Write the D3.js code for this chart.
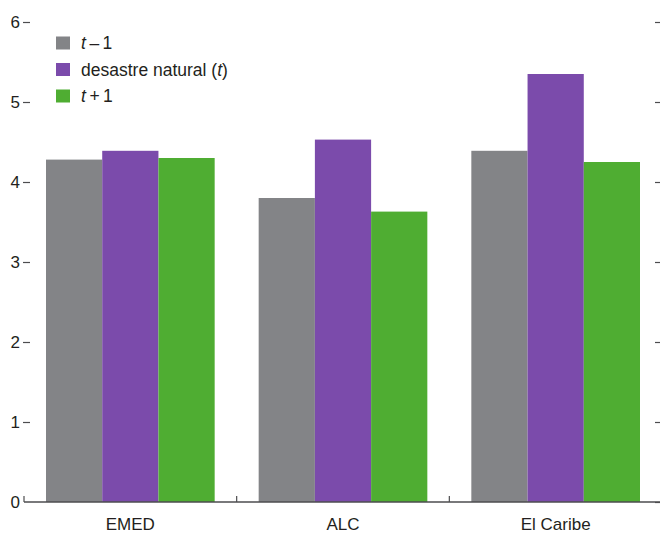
<!DOCTYPE html>
<html>
<head>
<meta charset="utf-8">
<script src="https://cdn.jsdelivr.net/npm/d3@7"></script>
<style>
  html, body { margin: 0; padding: 0; background: #fff; }
  svg text { font-family: "Liberation Sans", Arial, sans-serif; fill: #231f20; }
</style>
</head>
<body>
<svg id="chart" width="660" height="535"></svg>
<script>
const categories = ["EMED", "ALC", "El Caribe"];
const seriesKeys = ["tm1", "t", "tp1"];
const seriesColors = ["#838487", "#7b4bab", "#4fad32"];
const valuesTm1 = [4.28, 3.80, 4.39];
const valuesT = [4.39, 4.53, 5.35];
const valuesTp1 = [4.30, 3.63, 4.25];
const yTicks = [0, 1, 2, 3, 4, 5, 6];

const seriesValues = [valuesTm1, valuesT, valuesTp1];

const svg = d3.select("#chart");

const x0 = d3.scaleBand().domain(categories).range([24, 662]);
const x1 = d3.scaleBand().domain(seriesKeys).range([22, x0.bandwidth() - 22]);
const y = d3.scaleLinear().domain([0, 6]).range([502, 22]);
const color = d3.scaleOrdinal().domain(seriesKeys).range(seriesColors);

// bars
const groups = svg.append("g").selectAll("g")
  .data(categories)
  .join("g")
  .attr("transform", d => `translate(${x0(d)},0)`);

groups.selectAll("rect")
  .data((d, i) => seriesKeys.map((k, s) => ({ key: k, value: seriesValues[s][i] })))
  .join("rect")
  .attr("x", d => x1(d.key))
  .attr("width", x1.bandwidth())
  .attr("y", d => y(d.value))
  .attr("height", d => y(0) - y(d.value))
  .attr("fill", d => color(d.key));

// left axis (labels + short dashes)
const yAxisL = svg.append("g")
  .attr("transform", "translate(30,0)")
  .call(d3.axisLeft(y).tickValues(yTicks).tickSize(7).tickPadding(3).tickFormat(d3.format("d")));
yAxisL.select(".domain").remove();
yAxisL.selectAll(".tick line").attr("stroke", "#4d4d4f").attr("stroke-width", 1.2)
  .filter(d => d === 0).remove();
yAxisL.selectAll(".tick text").style("font-size", "17px").attr("fill", "#231f20");

// right axis ticks
const yAxisR = svg.append("g")
  .attr("transform", "translate(660,0)")
  .call(d3.axisLeft(y).tickValues(yTicks).tickSize(5).tickFormat(""));
yAxisR.select(".domain").remove();
yAxisR.selectAll(".tick line").attr("stroke", "#4d4d4f").attr("stroke-width", 1.2);

// x axis baseline
const boundaries = categories.map(c => x0(c));
svg.append("line")
  .attr("x1", x0.range()[0]).attr("x2", 660)
  .attr("y1", y(0)).attr("y2", y(0))
  .attr("stroke", "#4d4d4f").attr("stroke-width", 1.5);
svg.append("g").selectAll("line")
  .data(boundaries)
  .join("line")
  .attr("x1", d => d).attr("x2", d => d)
  .attr("y1", y(0)).attr("y2", y(0) - 6)
  .attr("stroke", "#4d4d4f").attr("stroke-width", 1.2);

// category labels
svg.append("g").selectAll("text")
  .data(categories)
  .join("text")
  .attr("x", d => x0(d) + x0.bandwidth() / 2)
  .attr("y", 530)
  .attr("text-anchor", "middle")
  .style("font-size", "17px")
  .text(d => d);

// legend
const legendItems = [
  [{ t: "t", i: true }, { t: "\u2009\u2013\u20091", i: false }],
  [{ t: "desastre natural (", i: false }, { t: "t", i: true }, { t: ")", i: false }],
  [{ t: "t", i: true }, { t: "\u2009+\u20091", i: false }]
];
const legend = svg.append("g");
legendItems.forEach((parts, k) => {
  const cy = 43 + k * 26.5;
  legend.append("rect")
    .attr("x", 56).attr("y", cy - 6.5)
    .attr("width", 14).attr("height", 13)
    .attr("fill", seriesColors[k]);
  const t = legend.append("text")
    .attr("x", 81).attr("y", cy + 6)
    .style("font-size", "17.5px");
  parts.forEach(p => {
    t.append("tspan").text(p.t).style("font-style", p.i ? "italic" : "normal");
  });
});
</script>
</body>
</html>
